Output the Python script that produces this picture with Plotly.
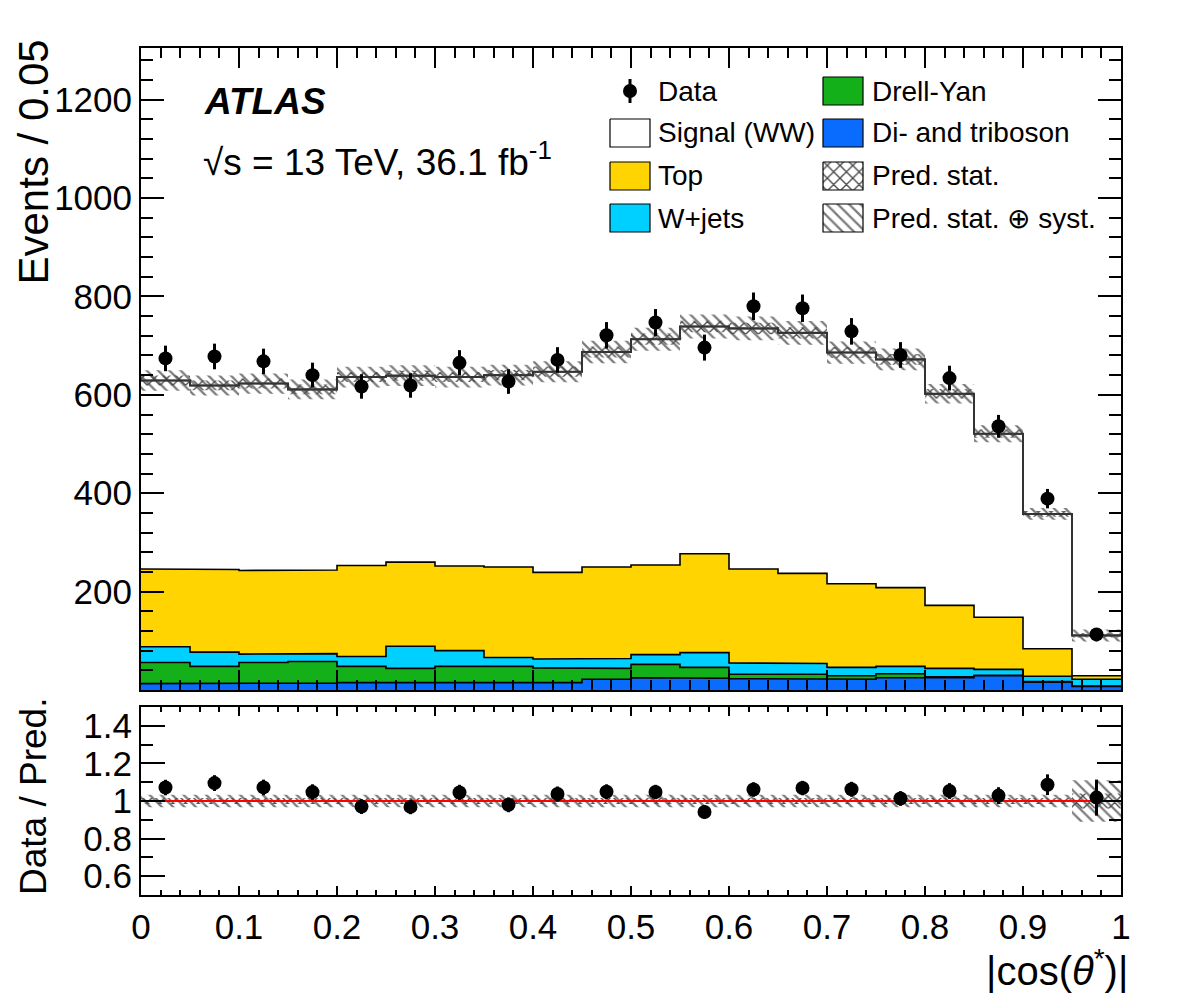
import numpy as np
import plotly.graph_objects as go

# ---------------- data ----------------
bin_edges = [round(0.05 * i, 2) for i in range(21)]
data = [674, 678, 668, 640, 617, 619, 665, 627, 671, 721,
        747, 696, 780, 776, 729, 681, 634, 536, 389, 113]
signal_ww = [383, 374, 380, 367, 383, 379, 384, 390, 408, 437,
             459, 462, 489, 489, 470, 464, 430, 373, 274, 82]
top = [158, 168, 170, 170, 185, 171, 172, 184, 176, 186,
       182, 201, 191, 183, 170, 160, 128, 106, 56, 7]
wjets = [32, 29, 17, 16, 20, 45, 32, 18, 18, 20,
         20, 30, 23, 22, 17, 15, 17, 12, 11, 14]
drell_yan = [43, 35, 43, 44, 33, 30, 33, 33, 30, 22,
             27, 22, 9, 9, 7, 8, 2, 1, 1, 1]
diboson = [13, 13, 13, 14, 15, 14, 15, 15, 15, 22,
           25, 24, 23, 23, 22, 25, 25, 29, 16, 7]
# relative prediction uncertainties
stat_rel = [0.016] * 19 + [0.04]
total_rel = [0.033] * 19 + [0.11]

x_ticks = [round(0.1 * i, 1) for i in range(11)]
x_ticktext = ["0", "0.1", "0.2", "0.3", "0.4", "0.5", "0.6", "0.7", "0.8", "0.9", "1"]
y_ticks = [200, 400, 600, 800, 1000, 1200]
r_ticks = [0.6, 0.8, 1.0, 1.2, 1.4]
r_ticktext = ["0.6", "0.8", "1", "1.2", "1.4"]

# ---------------- helpers ----------------
W, H = 1182, 998
FONT = "Liberation Sans, Arial, sans-serif"
edges = np.array(bin_edges)
centers = 0.5 * (edges[:-1] + edges[1:])


def step(vals):
    xs = np.repeat(edges, 2)[1:-1]
    ys = np.repeat(np.asarray(vals, float), 2)
    return xs, ys


def band(center, rel):
    center = np.asarray(center, float)
    rel = np.asarray(rel, float)
    xs, yu = step(center * (1 + rel))
    _, yl = step(center * (1 - rel))
    return np.concatenate([xs, xs[::-1]]), np.concatenate([yu, yl[::-1]])


comps = [("Di- and triboson", diboson, "#0a6cff"),
         ("Drell-Yan", drell_yan, "#14b01a"),
         ("W+jets", wjets, "#00d0ff"),
         ("Top", top, "#ffd400"),
         ("Signal (WW)", signal_ww, "#ffffff")]
cum = np.cumsum([np.asarray(c[1], float) for c in comps], axis=0)
total = cum[-1]
data_a = np.asarray(data, float)
data_err = np.sqrt(data_a)

fig = go.Figure()

# stacked histogram (draw largest cumulative first)
for i in range(len(comps) - 1, -1, -1):
    name, _, col = comps[i]
    xs, ys = step(cum[i])
    fig.add_trace(go.Scatter(x=xs, y=ys, mode="lines", fill="tozeroy",
                             fillcolor=col, line=dict(color="black", width=1.6),
                             xaxis="x", yaxis="y", showlegend=False, hoverinfo="skip"))

SYST_PAT = dict(shape="\\", fgcolor="#7c7c7c", bgcolor="rgba(0,0,0,0)", size=8, solidity=0.28)
STAT_PAT = dict(shape="x", fgcolor="#4a4a4a", bgcolor="rgba(0,0,0,0)", size=9, solidity=0.28)

# uncertainty bands (main)
bx, by = band(total, total_rel)
fig.add_trace(go.Scatter(x=bx, y=by, mode="lines", fill="toself", line=dict(width=0),
                         fillcolor="rgba(0,0,0,0)", fillpattern=SYST_PAT,
                         xaxis="x", yaxis="y", showlegend=False, hoverinfo="skip"))
bx, by = band(total, stat_rel)
fig.add_trace(go.Scatter(x=bx, y=by, mode="lines", fill="toself", line=dict(width=0),
                         fillcolor="rgba(0,0,0,0)", fillpattern=STAT_PAT,
                         xaxis="x", yaxis="y", showlegend=False, hoverinfo="skip"))
xs, ys = step(total)
fig.add_trace(go.Scatter(x=xs, y=ys, mode="lines", line=dict(color="#333333", width=2),
                         xaxis="x", yaxis="y", showlegend=False, hoverinfo="skip"))

# data (main)
fig.add_trace(go.Scatter(x=centers, y=data_a, mode="markers",
                         marker=dict(color="black", size=14),
                         error_y=dict(type="data", array=data_err, color="black", thickness=3, width=0),
                         xaxis="x", yaxis="y", showlegend=False, hoverinfo="skip"))

# ratio panel
ones = np.ones(len(total))
bx, by = band(ones, total_rel)
fig.add_trace(go.Scatter(x=bx, y=by, mode="lines", fill="toself", line=dict(width=0),
                         fillcolor="rgba(0,0,0,0)", fillpattern=SYST_PAT,
                         xaxis="x2", yaxis="y2", showlegend=False, hoverinfo="skip"))
bx, by = band(ones, stat_rel)
fig.add_trace(go.Scatter(x=bx, y=by, mode="lines", fill="toself", line=dict(width=0),
                         fillcolor="rgba(0,0,0,0)", fillpattern=STAT_PAT,
                         xaxis="x2", yaxis="y2", showlegend=False, hoverinfo="skip"))
fig.add_trace(go.Scatter(x=[edges[0], edges[-1]], y=[1, 1], mode="lines",
                         line=dict(color="#ff0000", width=2),
                         xaxis="x2", yaxis="y2", showlegend=False, hoverinfo="skip"))
fig.add_trace(go.Scatter(x=centers, y=data_a / total, mode="markers",
                         marker=dict(color="black", size=14),
                         error_y=dict(type="data", array=data_err / total, color="black", thickness=3, width=0),
                         xaxis="x2", yaxis="y2", showlegend=False, hoverinfo="skip"))

# ---------------- legend drawn in pixel overlay axes ----------------
leg_rows = [91, 133, 176, 218]
col_box = [(610, 650), (823, 863)]
col_txt = [658, 872]
legend_items = [
    (0, 0, "Data", "data", None),
    (0, 1, "Signal (WW)", "fill", "#ffffff"),
    (0, 2, "Top", "fill", "#ffd400"),
    (0, 3, "W+jets", "fill", "#00d0ff"),
    (1, 0, "Drell-Yan", "fill", "#14b01a"),
    (1, 1, "Di- and triboson", "fill", "#0a6cff"),
    (1, 2, "Pred. stat.", "x", None),
    (1, 3, "Pred. stat. \u2295 syst.", "\\", None),
]
annotations = []
for c, r, label, kind, col in legend_items:
    yc = leg_rows[r]
    x0, x1 = col_box[c]
    if kind == "data":
        fig.add_trace(go.Scatter(x=[(x0 + x1) / 2], y=[yc], mode="markers",
                                 marker=dict(color="black", size=14),
                                 error_y=dict(type="data", array=[12], color="black", thickness=3, width=0),
                                 xaxis="x3", yaxis="y3", showlegend=False, hoverinfo="skip"))
    else:
        rx = [x0, x1, x1, x0, x0]
        ry = [yc - 14, yc - 14, yc + 14, yc + 14, yc - 14]
        kw = {}
        if kind in ("x", "\\"):
            pat = dict(STAT_PAT if kind == "x" else SYST_PAT)
            pat["bgcolor"] = "white"
            kw["fillpattern"] = pat
            fc = "white"
        else:
            fc = col
        fig.add_trace(go.Scatter(x=rx, y=ry, mode="lines", fill="toself", fillcolor=fc,
                                 line=dict(color="black", width=1.2),
                                 xaxis="x3", yaxis="y3", showlegend=False, hoverinfo="skip", **kw))
    annotations.append(dict(x=(col_txt[c] - 2) / W, y=1 - yc / H, xref="paper", yref="paper",
                            text=label, showarrow=False, xanchor="left", yanchor="middle",
                            font=dict(family=FONT, size=28, color="black")))

# other texts
annotations += [
    dict(x=202 / W, y=1 - 102 / H, xref="paper", yref="paper", text="<b><i>ATLAS</i></b>",
         showarrow=False, xanchor="left", yanchor="middle",
         font=dict(family=FONT, size=37, color="black")),
    dict(x=201 / W, y=1 - 160 / H, xref="paper", yref="paper",
         text="\u221as = 13 TeV, 36.1 fb<sup>-1</sup>",
         showarrow=False, xanchor="left", yanchor="middle",
         font=dict(family=FONT, size=37, color="black")),
    dict(x=33 / W, y=1 - 38 / H, xref="paper", yref="paper", text="Events / 0.05",
         textangle=-90, showarrow=False, xanchor="center", yanchor="top",
         font=dict(family=FONT, size=42, color="black")),
    dict(x=33 / W, y=1 - 797 / H, xref="paper", yref="paper", text="Data / Pred.",
         textangle=-90, showarrow=False, xanchor="center", yanchor="middle",
         font=dict(family=FONT, size=37, color="black")),
    dict(x=1130 / W, y=1 - 968 / H, xref="paper", yref="paper",
         text="|cos(<i>\u03b8</i><sup>*</sup>)|",
         showarrow=False, xanchor="right", yanchor="middle",
         font=dict(family=FONT, size=40, color="black")),
]

dom_x = [141 / W, 1121 / W]
main_y = [1 - 690 / H, 1 - 48 / H]
ratio_y = [1 - 895 / H, 1 - 707 / H]
tickfont = dict(family=FONT, size=35, color="black")
common = dict(showgrid=False, zeroline=False, showline=True, linecolor="black", linewidth=2,
              mirror="allticks", ticks="inside", tickcolor="black", tickwidth=1.5,
              automargin=False)

fig.update_layout(
    template="none",
    width=W, height=H, autosize=False,
    margin=dict(l=0, r=0, t=0, b=0, pad=0),
    paper_bgcolor="white", plot_bgcolor="rgba(0,0,0,0)",
    font=dict(family=FONT, color="black"),
    xaxis=dict(domain=dom_x, anchor="y", range=[0, 1], tickmode="array", tickvals=x_ticks,
               showticklabels=False, ticklen=20,
               minor=dict(dtick=0.02, tick0=0, ticklen=10, ticks="inside", tickcolor="black",
                          tickwidth=1.5, showgrid=False), **common),
    yaxis=dict(domain=main_y, anchor="x", range=[0, 1305], tickmode="array", tickvals=y_ticks,
               ticktext=[str(v) for v in y_ticks], tickfont=tickfont, ticklen=23,
               minor=dict(dtick=40, tick0=0, ticklen=12, ticks="inside", tickcolor="black",
                          tickwidth=1.5, showgrid=False), **common),
    xaxis2=dict(domain=dom_x, anchor="y2", range=[0, 1], tickmode="array", tickvals=x_ticks,
                ticktext=x_ticktext, tickfont=tickfont, ticklen=9,
                minor=dict(dtick=0.02, tick0=0, ticklen=5, ticks="inside", tickcolor="black",
                           tickwidth=1.5, showgrid=False), **common),
    yaxis2=dict(domain=ratio_y, anchor="x2", range=[0.5, 1.5], tickmode="array", tickvals=r_ticks,
                ticktext=r_ticktext, tickfont=tickfont, ticklen=24,
                minor=dict(tickmode="linear", dtick=0.1, tick0=0.5, ticklen=12, ticks="inside",
                           tickcolor="black", tickwidth=1.5, showgrid=False), **common),
    yaxis4=dict(overlaying="y2", anchor="x2", range=[0.5, 1.5], tickmode="linear", tick0=0.5,
                dtick=0.02, ticklen=6, showticklabels=False, **common),
    xaxis3=dict(domain=[0, 1], anchor="y3", range=[0, W], visible=False, fixedrange=True,
                automargin=False),
    yaxis3=dict(domain=[0, 1], anchor="x3", range=[H, 0], visible=False, fixedrange=True,
                automargin=False),
    annotations=annotations,
    showlegend=False,
)

fig.write_html("out.html")
